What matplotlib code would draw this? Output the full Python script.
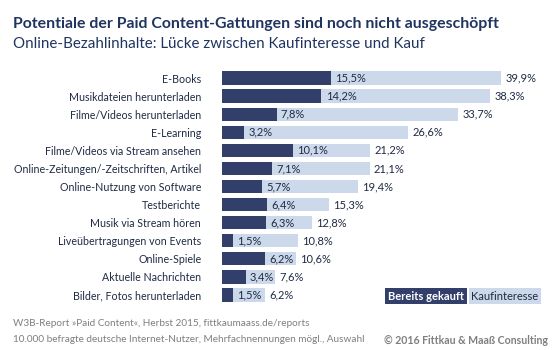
import matplotlib.pyplot as plt

plt.rcParams['font.family'] = ['Lato', 'DejaVu Sans']

categories = ["E-Books", "Musikdateien herunterladen", "Filme/Videos herunterladen",
              "E-Learning", "Filme/Videos via Stream ansehen",
              "Online-Zeitungen/-Zeitschriften, Artikel", "Online-Nutzung von Software",
              "Testberichte", "Musik via Stream hören", "Liveübertragungen von Events",
              "Online-Spiele", "Aktuelle Nachrichten", "Bilder, Fotos herunterladen"]
gekauft = [15.5, 14.2, 7.8, 3.2, 10.1, 7.1, 5.7, 6.4, 6.3, 1.5, 6.2, 3.4, 1.5]
interesse = [39.9, 38.3, 33.7, 26.6, 21.2, 21.1, 19.4, 15.3, 12.8, 10.8, 10.6, 7.6, 6.2]

DARK = '#323f6b'
LIGHT = '#ccd9ea'
TEXT = '#1f2a44'
GREY = '#7f7f7f'

W, H = 560, 350
fig = plt.figure(figsize=(5.6, 3.5), dpi=100)
left, right, top, bottom = 222, 537, 69, 304
ax = fig.add_axes([left / W, 1 - bottom / H, (right - left) / W, (bottom - top) / H])

y = range(len(categories))
ax.barh(y, interesse, height=0.74, color=LIGHT)
ax.barh(y, gekauft, height=0.74, color=DARK)
for i, (g, k) in enumerate(zip(gekauft, interesse)):
    ax.text(g + 0.6, i, f"{g:.1f}%".replace('.', ','), va='center', ha='left',
            fontsize=8, color=TEXT)
    ax.text(k + 0.6, i, f"{k:.1f}%".replace('.', ','), va='center', ha='left',
            fontsize=8, color=TEXT)

ax.set_xlim(0, 45)
ax.set_ylim(len(categories) - 0.5, -0.5)
ax.set_yticks(list(y))
ax.set_yticklabels(categories, fontsize=7.7, color=TEXT)
ax.tick_params(axis='y', length=0, pad=15)
ax.set_xticks([])
for s in ax.spines.values():
    s.set_visible(False)

# legend boxes
fig.text(426 / W, 1 - 296 / H, "Bereits gekauft", ha='center', va='center', fontsize=8,
         color='white', fontweight='bold',
         bbox=dict(boxstyle='square,pad=0.25', fc=DARK, ec='none'))
fig.text(505 / W, 1 - 296 / H, "Kaufinteresse", ha='center', va='center', fontsize=8,
         color=TEXT, bbox=dict(boxstyle='square,pad=0.25', fc=LIGHT, ec='none'))

fig.text(13 / W, 1 - 24 / H, "Potentiale der Paid Content-Gattungen sind noch nicht ausgeschöpft",
         fontsize=11.4, fontweight='bold', color='#1f3560', va='center')
fig.text(13 / W, 1 - 44 / H, "Online-Bezahlinhalte: Lücke zwischen Kaufinteresse und Kauf",
         fontsize=10.9, color='#1f3560', va='center')

fig.text(13 / W, 1 - 324 / H, "W3B-Report »Paid Content«, Herbst 2015, fittkaumaass.de/reports",
         fontsize=7.2, color=GREY, va='center')
fig.text(13 / W, 1 - 340 / H,
         "10.000 befragte deutsche Internet-Nutzer, Mehrfachnennungen mögl., Auswahl",
         fontsize=7.2, color=GREY, va='center')
fig.text(548 / W, 1 - 340 / H, "© 2016 Fittkau & Maaß Consulting", ha='right',
         fontsize=7.6, color=GREY, fontweight='bold', va='center')

fig.savefig('out.png', dpi=100)
